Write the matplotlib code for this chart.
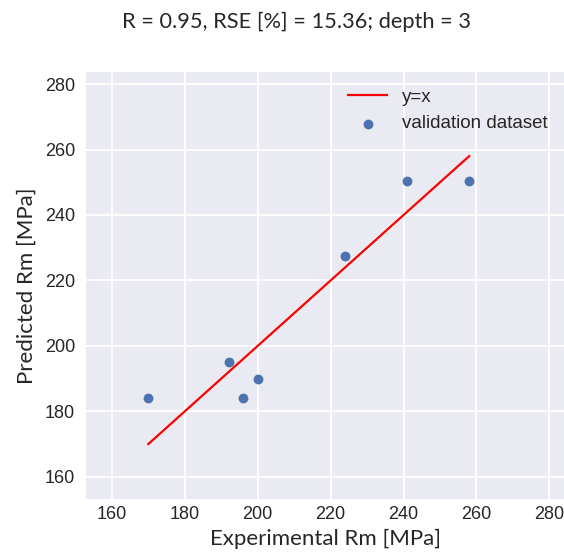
import matplotlib
matplotlib.use("Agg")
import matplotlib.pyplot as plt
import numpy as np

# validation data
exp_rm = [170, 192, 196, 200, 224, 241, 258]
pred_rm = [184, 195, 184, 190, 227.5, 250.3, 250.3]
line_x = [170, 258]
ticks = [160, 180, 200, 220, 240, 260, 280]
title = "R = 0.95, RSE [%] = 15.36; depth = 3"

BG = "#EAEAF2"
BLUE = "#4C72B0"
DARK = "#262626"
LABEL_FONT = ["Lato", "DejaVu Sans"]

plt.rcParams.update({
    "font.family": ["Liberation Sans", "DejaVu Sans"],
    "axes.facecolor": BG,
    "axes.edgecolor": "white",
    "axes.grid": True,
    "grid.color": "white",
    "grid.linewidth": 1.3,
    "xtick.major.size": 0,
    "ytick.major.size": 0,
    "xtick.color": DARK,
    "ytick.color": DARK,
    "text.color": DARK,
    "axes.labelcolor": DARK,
})

fig = plt.figure(figsize=(5.64, 5.57), dpi=100)
ax = fig.add_axes([86 / 564, 58 / 557, 1 - 86 / 564, (499 - 72) / 557])
for s in ax.spines.values():
    s.set_visible(False)
ax.set_axisbelow(True)

ax.plot(line_x, line_x, color="red", linewidth=1.6, label="y=x", zorder=2)
ax.scatter(exp_rm, pred_rm, s=50, color=BLUE, linewidth=0, label="validation dataset", zorder=3)

ax.set_xlim(152.9, 284)
ax.set_ylim(153.2, 283.7)
ax.set_xticks(ticks)
ax.set_yticks(ticks)
ax.tick_params(labelsize=13)
ax.tick_params(axis="x", pad=5)
ax.tick_params(axis="y", pad=8)

ax.set_xlabel("Experimental Rm [MPa]", fontsize=16, family=LABEL_FONT, labelpad=4)
ax.set_ylabel("Predicted Rm [MPa]", fontsize=16, family=LABEL_FONT, labelpad=6)

leg = ax.legend(loc="upper right", bbox_to_anchor=(1.0, 1.0), frameon=False,
                fontsize=13.5, handlelength=2.1, handletextpad=0.75, labelspacing=0.5)

fig.text(296 / 564, 1 - 22 / 557, title, ha="center", va="center", fontsize=15.7, family=LABEL_FONT)

fig.savefig("out.png", dpi=100, facecolor="white")
